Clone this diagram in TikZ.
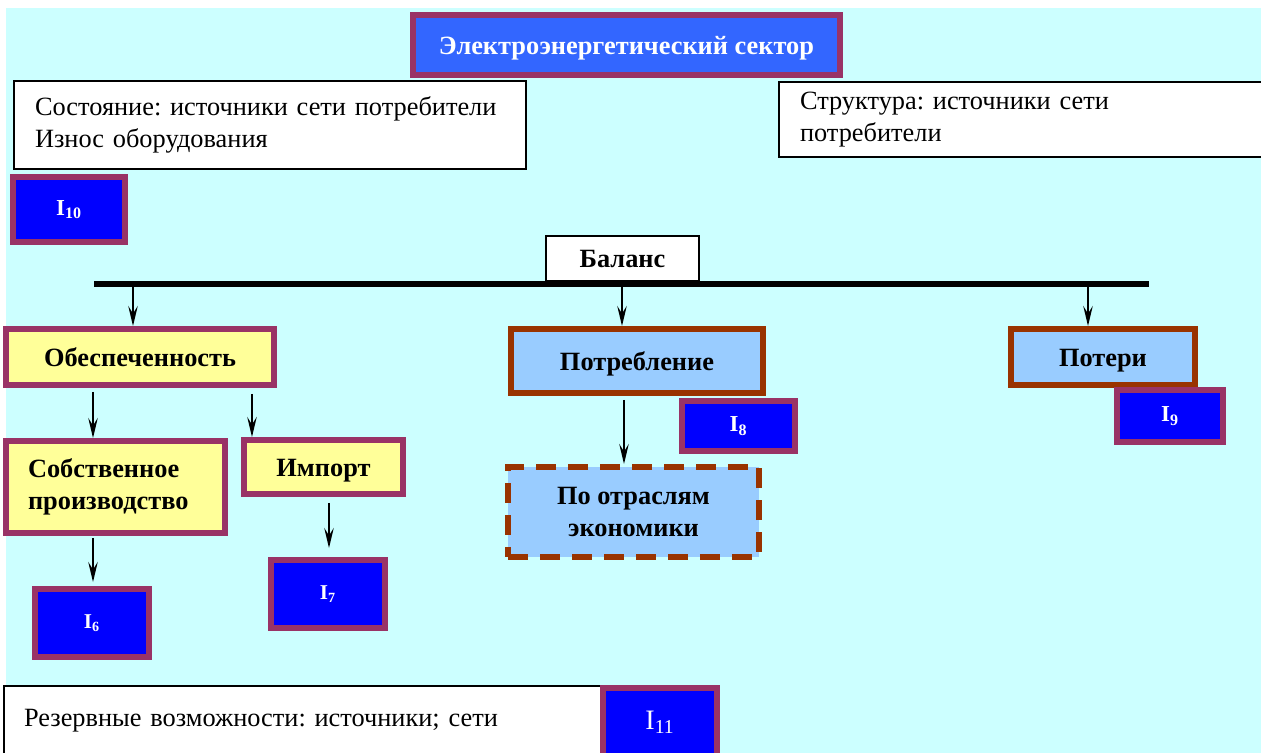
\documentclass[tikz,border=0pt]{standalone}
\usepackage{fontspec}
\setmainfont{Liberation Serif}
\usetikzlibrary{arrows.meta}
\definecolor{bgcyan}{HTML}{CCFFFF}
\definecolor{titleblue}{HTML}{3366FF}
\definecolor{idxblue}{HTML}{0000FF}
\definecolor{plum}{HTML}{993366}
\definecolor{rust}{HTML}{993300}
\definecolor{paleyellow}{HTML}{FFFF99}
\definecolor{paleblue}{HTML}{99CCFF}
\frenchspacing
\begin{document}
\begin{tikzpicture}[x=0.02cm, y=-0.02cm,
  font=\fontsize{15}{18}\selectfont,
  >={Stealth[length=4mm,width=1.9mm,inset=1.5mm]},
  notebox/.style={rectangle, draw=black, line width=1.1pt, fill=white,
                  align=left, inner xsep=0.42cm, inner ysep=0pt},
  titlebox/.style={rectangle, draw=plum, line width=3.4pt, fill=titleblue,
                   text=white, font=\fontsize{15}{18}\selectfont\bfseries, inner sep=0pt},
  idxbox/.style={rectangle, draw=plum, line width=3.4pt, fill=idxblue, text=white,
                 font=\fontsize{13}{15}\selectfont\bfseries, inner sep=0pt},
  supplybox/.style={rectangle, draw=plum, line width=3.4pt, fill=paleyellow,
                    font=\fontsize{15}{18}\selectfont\bfseries, align=center, inner sep=0pt},
  demandbox/.style={rectangle, draw=rust, line width=3.4pt, fill=paleblue,
                    font=\fontsize{15}{18}\selectfont\bfseries, align=center, inner sep=0pt},
  oneline/.style={text height=10.4pt, text depth=0pt},
  arr/.style={->, line width=1.1pt, draw=black}
]
\useasboundingbox (0,0) rectangle (1261,753);
\fill[bgcyan] (6,8) rectangle (1261,753);

% top part
\node[titlebox, oneline, minimum width=8.54cm, minimum height=1.2cm] (title) at (626.5,45) {Электроэнергетический сектор};
\node[notebox, text width=9.4cm, minimum height=1.76cm] (state) at (270,125)
  {Состояние: источники сети потребители\\Износ оборудования};
\node[notebox, text width=8.96cm, minimum height=1.5cm] (struct) at (1024,119.5)
  {Структура: источники сети\\потребители};
\node[idxbox, minimum width=2.24cm, minimum height=1.3cm] (i10) at (69,209.5) {I\textsubscript{10}};

% balance bar
\node[notebox, oneline, font=\fontsize{15}{18}\selectfont\bfseries, inner xsep=0pt,
      minimum width=3.06cm, minimum height=0.9cm] (balance) at (622.5,258.5) {Баланс};
\coordinate (barL) at (94,284);
\coordinate (barR) at (1149,284);
\draw[line width=3.4pt] (barL) -- (barR);
\coordinate (b1) at (133,284);
\coordinate (b2) at (622,284);
\coordinate (b3) at (1088,284);

% second row
\node[supplybox, oneline, minimum width=5.36cm, minimum height=1.12cm] (supply) at (140,357) {Обеспеченность};
\node[demandbox, oneline, minimum width=5.04cm, minimum height=1.28cm] (demand) at (637,361) {Потребление};
\node[demandbox, oneline, minimum width=3.68cm, minimum height=1.12cm] (losses) at (1103,357) {Потери};
\node[idxbox, minimum width=2.26cm, minimum height=1.0cm] (i8) at (738.5,426) {I\textsubscript{8}};
\node[idxbox, minimum width=2.12cm, minimum height=1.04cm] (i9) at (1170,416) {I\textsubscript{9}};
\draw[arr] (b1) -- (b1 |- supply.north);
\draw[arr] (b2) -- (b2 |- demand.north);
\draw[arr] (b3) -- (b3 |- losses.north);

% third row
\node[supplybox, align=left, text width=3.5cm, inner xsep=0.44cm,
      minimum height=1.84cm] (own) at (115.5,487)
  {Собственное\\производство};
\node[supplybox, oneline, minimum width=3.18cm, minimum height=1.08cm] (import) at (323.5,467) {Импорт};
\node[demandbox, dashed, dash pattern=on 0.4cm off 0.24cm,
      minimum width=5.02cm, minimum height=1.8cm] (branch) at (633.5,512)
  {По отраслям\\экономики};
\node[idxbox, font=\fontsize{12}{14}\selectfont\bfseries, minimum width=2.28cm, minimum height=1.36cm] (i6) at (92,623) {I\textsubscript{6}};
\node[idxbox, font=\fontsize{12}{14}\selectfont\bfseries, minimum width=2.28cm, minimum height=1.36cm] (i7) at (328,594) {I\textsubscript{7}};

\coordinate (s1) at ([xshift=-0.94cm,yshift=-0.08cm]supply.south);
\coordinate (s2) at ([xshift=2.24cm,yshift=-0.12cm]supply.south);
\coordinate (s3) at ([xshift=-0.45cm,yshift=-0.04cm]own.south);
\coordinate (s4) at ([xshift=0.11cm,yshift=-0.12cm]import.south);
\coordinate (s5) at ([xshift=-0.26cm,yshift=-0.08cm]demand.south);
\draw[arr] (s1) -- (s1 |- own.north);
\draw[arr] (s2) -- (s2 |- import.north);
\draw[arr, shorten >=0.08cm] (s3) -- (s3 |- i6.north);
\draw[arr, shorten >=0.18cm] (s4) -- (s4 |- i7.north);
\draw[arr] (s5) -- (s5 |- branch.north);

% bottom
\node[notebox, inner xsep=0.4cm, text width=11.2cm, minimum height=1.4cm] (reserve) at (304,721)
  {Резервные возможности: источники; сети};
\node[idxbox, font=\fontsize{16}{18}\selectfont, minimum width=2.28cm, minimum height=1.38cm] (i11) at (660,722.5) {I\textsubscript{11}};
\end{tikzpicture}
\end{document}
